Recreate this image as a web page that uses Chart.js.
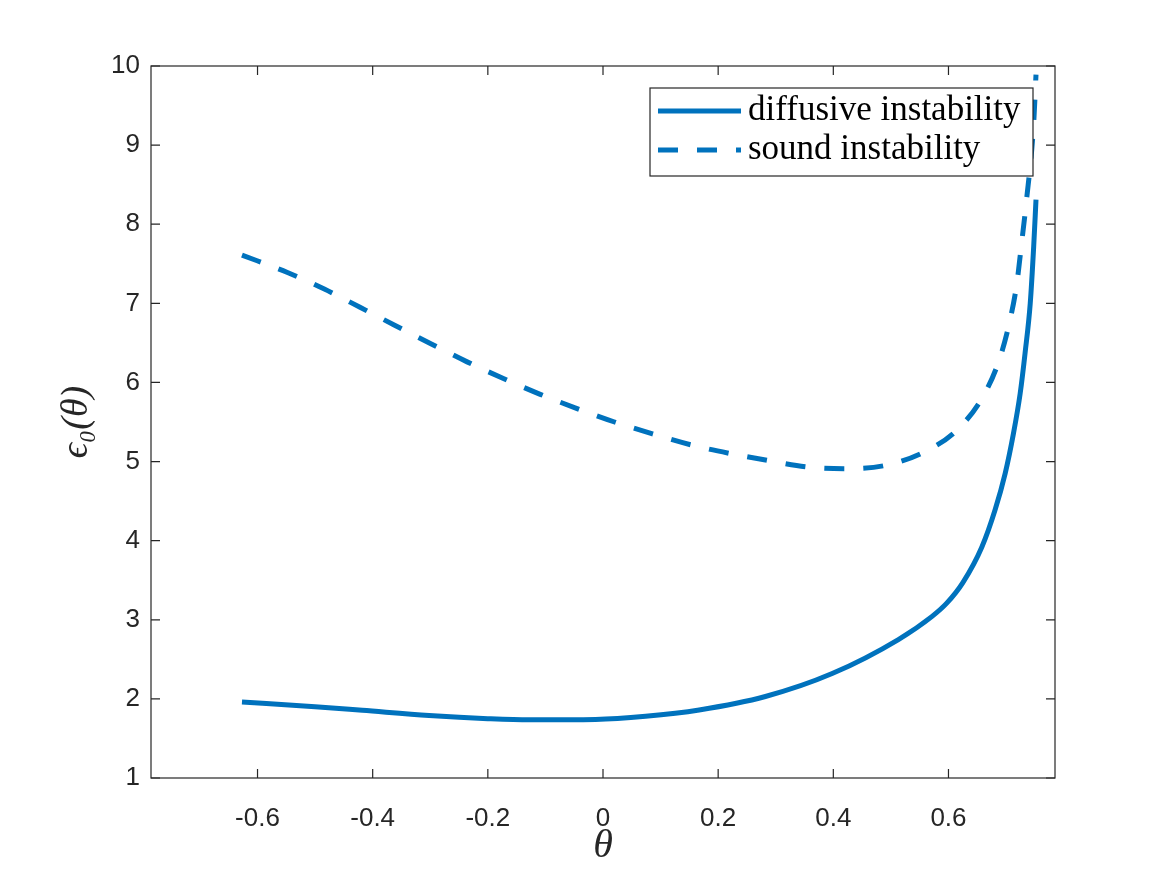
<!DOCTYPE html>
<html>
<head>
<meta charset="utf-8">
<script src="https://cdn.jsdelivr.net/npm/chart.js@4.4.1/dist/chart.umd.min.js"></script>
<style>
  html, body { margin: 0; padding: 0; background: #fff; }
  canvas { display: block; }
</style>
</head>
<body>
<canvas id="epsChart" width="1167" height="875"></canvas>
<script>
// values
const thetaDiffusive = [-0.627, -0.5, -0.418, -0.302, -0.2, -0.128, -0.013, 0.074, 0.167, 0.282, 0.398,
    0.513, 0.571, 0.597, 0.625, 0.658, 0.681, 0.6985, 0.713, 0.7245, 0.733, 0.742, 0.748, 0.752];
const epsDiffusive = [1.96, 1.90, 1.855, 1.79, 1.75, 1.735, 1.74, 1.78, 1.86, 2.03, 2.32,
    2.75, 3.04, 3.21, 3.47, 3.92, 4.39, 4.85, 5.36, 5.86, 6.37, 7.00, 7.72, 8.31];

const thetaSound = [-0.627, -0.548, -0.484, -0.422, -0.361, -0.299, -0.236, -0.173, -0.109, -0.045,
    0.020, 0.086, 0.153, 0.222, 0.289, 0.357, 0.427, 0.496, 0.563, 0.615, 0.659, 0.687, 0.706,
    0.7187, 0.727, 0.735, 0.748, 0.752];
const epsSound = [7.61, 7.39, 7.18, 6.95, 6.72, 6.49, 6.26, 6.05, 5.85, 5.67,
    5.50, 5.35, 5.21, 5.10, 5.01, 4.93, 4.91, 4.96, 5.14, 5.40, 5.81, 6.26, 6.76,
    7.25, 7.76, 8.27, 9.28, 9.89];

const seriesLabels = ['diffusive instability', 'sound instability'];
const xTickValues = [-0.6, -0.4, -0.2, 0, 0.2, 0.4, 0.6];
const yTickValues = [1, 2, 3, 4, 5, 6, 7, 8, 9, 10];

const axisColor = '#262626';
const lineColor = '#0072BD';

function toPoints(xs, ys) {
    return xs.map((x, i) => ({ x: x, y: ys[i] }));
}

// box around the axes with MATLAB style inward ticks
const boxPlugin = {
    id: 'axesBox',
    afterDatasetsDraw(chart) {
        const { ctx, chartArea: a, scales } = chart;
        const tick = 9;
        ctx.save();
        ctx.strokeStyle = axisColor;
        ctx.lineWidth = 1.2;
        ctx.strokeRect(a.left, a.top, a.right - a.left, a.bottom - a.top);
        ctx.beginPath();
        xTickValues.forEach(v => {
            const px = scales.x.getPixelForValue(v);
            ctx.moveTo(px, a.bottom); ctx.lineTo(px, a.bottom - tick);
            ctx.moveTo(px, a.top); ctx.lineTo(px, a.top + tick);
        });
        yTickValues.forEach(v => {
            const py = scales.y.getPixelForValue(v);
            ctx.moveTo(a.left, py); ctx.lineTo(a.left + tick, py);
            ctx.moveTo(a.right, py); ctx.lineTo(a.right - tick, py);
        });
        ctx.stroke();
        ctx.restore();
    }
};

// boxed legend in the upper right corner
const legendPlugin = {
    id: 'boxLegend',
    afterDraw(chart) {
        const { ctx, chartArea: a } = chart;
        const font = '35px "Liberation Serif", "Times New Roman", serif';
        ctx.save();
        ctx.font = font;
        const sets = chart.data.datasets;
        const textW = Math.max(...sets.map(d => ctx.measureText(d.label).width));
        const w = Math.max(383, 8 + 83 + 7 + textW + 10);
        const h = 88;
        const right = a.right - 22;
        const top = a.top + 22;
        const left = right - w;
        ctx.fillStyle = '#fff';
        ctx.fillRect(left, top, w, h);
        ctx.strokeStyle = axisColor;
        ctx.lineWidth = 1.2;
        ctx.strokeRect(left, top, w, h);
        const rows = [top + 23, top + 62];
        sets.forEach((d, i) => {
            const y = rows[i];
            ctx.beginPath();
            ctx.strokeStyle = d.borderColor;
            ctx.lineWidth = d.borderWidth;
            ctx.setLineDash(d.borderDash || []);
            ctx.moveTo(left + 8, y);
            ctx.lineTo(left + 91, y);
            ctx.stroke();
            ctx.setLineDash([]);
            ctx.fillStyle = '#000';
            ctx.textBaseline = 'middle';
            ctx.textAlign = 'left';
            ctx.fillText(d.label, left + 98, y);
        });
        ctx.restore();
    }
};

const ctx = document.getElementById('epsChart').getContext('2d');
const epsChart = new Chart(ctx, {
    type: 'line',
    data: {
        datasets: [{
            label: seriesLabels[0],
            data: toPoints(thetaDiffusive, epsDiffusive),
            borderColor: lineColor,
            borderWidth: 5,
            cubicInterpolationMode: 'monotone',
            pointRadius: 0,
            fill: false
        }, {
            label: seriesLabels[1],
            data: toPoints(thetaSound, epsSound),
            borderColor: lineColor,
            borderWidth: 5,
            borderDash: [20, 19],
            cubicInterpolationMode: 'monotone',
            pointRadius: 0,
            fill: false
        }]
    },
    options: {
        responsive: false,
        animation: false,
        devicePixelRatio: 1,
        layout: { padding: { top: 66, right: 112, left: 0, bottom: 0 } },
        plugins: {
            legend: { display: false },
            tooltip: { enabled: false }
        },
        scales: {
            x: {
                type: 'linear',
                min: -0.785,
                max: 0.785,
                afterBuildTicks: s => { s.ticks = xTickValues.map(v => ({ value: v })); },
                afterFit: s => { s.height = 97; },
                grid: { display: false, drawTicks: false },
                border: { display: false },
                ticks: {
                    color: axisColor,
                    padding: 25,
                    maxRotation: 0,
                    font: { family: '"Liberation Sans", Arial, sans-serif', size: 26 },
                    callback: v => (v === 0 ? '0' : v.toFixed(1))
                },
                title: {
                    display: true,
                    text: 'θ',
                    color: axisColor,
                    font: { family: '"Liberation Serif", serif', style: 'italic', size: 40 },
                    padding: { top: 0, bottom: 5 }
                }
            },
            y: {
                type: 'linear',
                min: 1,
                max: 10,
                afterBuildTicks: s => { s.ticks = yTickValues.map(v => ({ value: v })); },
                afterFit: s => { s.width = 151; },
                grid: { display: false, drawTicks: false },
                border: { display: false },
                ticks: {
                    color: axisColor,
                    padding: 11,
                    font: { family: '"Liberation Sans", Arial, sans-serif', size: 26 }
                },
                title: {
                    display: true,
                    text: 'ϵ₀(θ)',
                    color: axisColor,
                    font: { family: '"Liberation Serif", "DejaVu Serif", serif', style: 'italic', size: 38 },
                    padding: { top: 54, bottom: 0 }
                }
            }
        }
    },
    plugins: [boxPlugin, legendPlugin]
});
</script>
</body>
</html>
